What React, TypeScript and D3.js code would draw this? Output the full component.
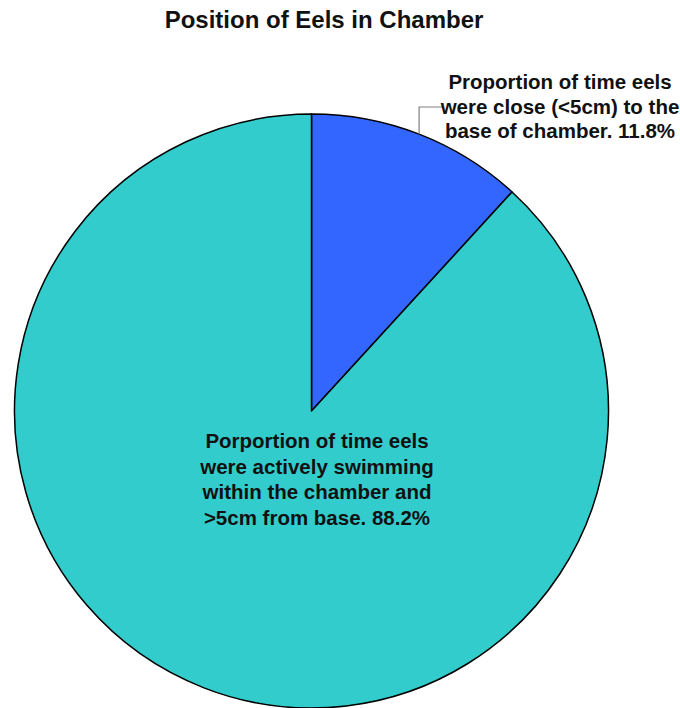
import { useEffect, useRef } from 'react';
import * as d3 from 'd3';

// slice values (percent), in drawing order from 12 o'clock clockwise
const segments = ['close', 'swimming'];
const values = [11.8, 88.2];
const colors = ['#3366FF', '#33CCCC'];
const labelLines = [
  ['Proportion of time eels', 'were close (<5cm) to the', 'base of chamber. 11.8%'],
  ['Porportion of time eels', 'were actively swimming', 'within the chamber and', '>5cm from base. 88.2%'],
];
const title = 'Position of Eels in Chamber';

const PieChart = () => {
  const svgRef = useRef<SVGSVGElement>(null);

  useEffect(() => {
    if (!svgRef.current) return;
    d3.select(svgRef.current).selectAll('*').remove();

    const width = 680;
    const height = 708;
    const cx = 311.5;
    const cy = 411;
    const radius = 297;
    const font = '"Liberation Sans", Arial, sans-serif';

    const svg = d3
      .select(svgRef.current)
      .attr('width', width)
      .attr('height', height);

    svg
      .append('rect')
      .attr('width', width)
      .attr('height', height)
      .attr('fill', 'white');

    // Title
    svg
      .append('text')
      .attr('x', 324)
      .attr('y', 28)
      .attr('text-anchor', 'middle')
      .attr('font-family', font)
      .attr('font-weight', 'bold')
      .attr('font-size', 24)
      .attr('fill', '#111')
      .text(title);

    const pie = d3
      .pie<number>()
      .sort(null)
      .value((d) => d)
      .startAngle(0)
      .endAngle(2 * Math.PI);

    const arcs = pie(values);

    const arc = d3
      .arc<d3.PieArcDatum<number>>()
      .innerRadius(0)
      .outerRadius(radius);

    const g = svg.append('g').attr('transform', `translate(${cx},${cy})`);

    g.selectAll('path.slice')
      .data(arcs)
      .enter()
      .append('path')
      .attr('class', 'slice')
      .attr('d', arc)
      .attr('fill', (_, i) => colors[i])
      .attr('stroke', '#000')
      .attr('stroke-width', 1.5)
      .attr('stroke-linejoin', 'round');

    // leader line from the middle of the small slice's arc to its label
    const mid = (arcs[0].startAngle + arcs[0].endAngle) / 2;
    const px = Math.sin(mid) * radius;
    const py = -Math.cos(mid) * radius;
    const elbowY = 107 - cy;
    g.append('polyline')
      .attr('points', `${px},${py} ${px},${elbowY} ${px + 23},${elbowY}`)
      .attr('fill', 'none')
      .attr('stroke', '#808080')
      .attr('stroke-width', 1.2);

    // labels
    const labelPos = [
      { x: 560, y: 89, step: 24.5 },
      { x: 317, y: 448, step: 25.7 },
    ];
    labelLines.forEach((lines, i) => {
      const t = svg
        .append('text')
        .attr('class', `label-${segments[i]}`)
        .attr('text-anchor', 'middle')
        .attr('font-family', font)
        .attr('font-weight', 'bold')
        .attr('font-size', 20.5)
        .attr('fill', '#111');
      lines.forEach((line, j) => {
        t.append('tspan')
          .attr('x', labelPos[i].x)
          .attr('y', labelPos[i].y + j * labelPos[i].step)
          .text(line);
      });
    });
  }, []);

  return (
    <svg
      ref={svgRef}
      style={{ position: 'absolute', left: 0, top: 0, display: 'block' }}
    ></svg>
  );
};

export default function App() {
  return <PieChart />;
}
